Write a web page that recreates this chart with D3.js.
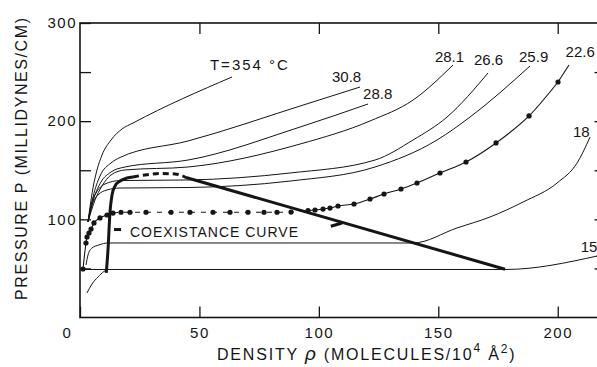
<!DOCTYPE html>
<html>
<head>
<meta charset="utf-8">
<script src="https://cdn.jsdelivr.net/npm/d3@7"></script>
<style>
  body { margin: 0; background: #fff; }
  svg { display: block; font-family: "Liberation Sans", "DejaVu Sans", sans-serif; }
</style>
</head>
<body>
<svg id="chart" width="597" height="367"></svg>
<script>
// isotherms, [density, pressure]
const t354 = [[3.35, 97.3], [4.19, 112.6], [5.44, 131.9], [7.12, 150.3], [9.21, 165.5], [12.98, 180.8], [17.58, 192.0], [22.19, 198.1], [63.64, 245.0]];
const t308 = [[3.35, 97.3], [5.44, 122.7], [8.37, 144.1], [12.98, 157.4], [16.75, 163.0], [45.22, 179.8], [92.11, 215.4], [117.23, 234.8]];
const t288 = [[3.35, 97.3], [5.86, 121.7], [8.79, 138.0], [12.98, 148.2], [18.84, 153.3], [45.22, 160.4], [92.11, 194.0], [120.58, 217.5]];
const t281 = [[3.35, 97.3], [6.28, 119.7], [9.21, 133.9], [12.98, 145.2], [18.84, 150.3], [45.22, 153.3], [92.11, 176.7], [121.42, 200.2], [139.42, 221.5], [156.17, 257.2]];
const t266 = [[3.35, 97.3], [4.61, 114.6], [6.7, 126.8], [10.47, 136.0], [16.75, 139.5], [45.22, 140.1], [87.92, 147.2], [123.51, 160.4], [139.42, 180.8], [153.65, 204.2], [170.82, 249.1]];
const t259 = [[3.35, 97.3], [5.02, 114.6], [7.54, 124.8], [11.3, 129.9], [16.75, 131.9], [45.22, 132.4], [87.92, 139.0], [123.51, 153.3], [149.47, 180.8], [163.28, 204.2], [188.4, 256.2]];
const t226 = [[1.26, 49.4], [2.51, 75.9], [2.93, 82.0], [3.77, 86.1], [4.61, 90.1], [5.86, 96.3], [8.37, 101.4], [11.3, 104.4], [13.82, 106.4],
  [17.17, 107.2], [20.93, 107.2], [27.63, 107.2], [38.1, 107.2], [46.05, 107.2], [55.68, 107.2], [62.8, 107.2], [70.34, 107.2], [77.04, 107.2], [82.48, 107.2], [88.34, 107.4],
  [95.46, 109.0], [98.39, 109.5], [101.74, 110.5], [104.67, 111.5], [108.02, 113.6], [114.72, 115.6], [121.42, 120.7], [127.28, 125.8], [134.39, 130.9],
  [141.09, 137.0], [150.72, 147.2], [161.61, 158.4], [174.17, 177.8], [187.98, 205.3], [200.12, 239.9]];
const t226Tail = [[200.12, 239.9], [204.7, 257.2]];
const t18 = [[2.51, 53.5], [3.35, 63.7], [5.02, 70.8], [7.95, 73.9], [11.72, 75.9], [139.42, 75.9], [157.84, 91.2], [171.66, 102.4], [185.47, 117.6], [199.71, 137.0], [208.08, 157.3], [213.53, 183.8]];
const t15 = [[2.93, 25.0], [5.02, 34.1], [7.54, 41.3], [10.05, 46.9], [11.72, 48.9], [177.94, 48.9], [216.46, 62.6]];
const tie15 = [[0.8, 48.9], [11.72, 48.9]];

// coexistence curve: left branch, dashed top, straight right branch
const coexLeft = [[11.0, 45.5], [11.72, 68.8], [12.56, 107.5], [13.4, 124.8], [14.65, 133.9], [16.75, 139.0], [19.68, 142.1], [22.19, 143.2]];
const coexTop = [[22.19, 143.2], [27.21, 145.2], [33.49, 146.7], [39.77, 146.2], [44.38, 142.6]];
const coexRight = [[44.38, 142.6], [177.94, 49.2]];
const pointers = [[[14.23, 89.6], [17.2, 89.6]], [[105.0, 93.0], [109.7, 96.3]]];

const isoNames = ["T=354 °C", "30.8", "28.8", "28.1", "26.6", "25.9", "22.6", "18", "15"];
const xTicks = [0, 50, 100, 150, 200];
const yTicks = [50, 100, 150, 200, 250, 300];
const yLabelled = [100, 200, 300];

// label layout (data coords of text start / baseline)
const labelAt = [[54.4, 252.0], [105.5, 239.9], [118.5, 222.6], [148.6, 260.2], [164.96, 257.2],
  [183.8, 260.2], [203.3, 265.3], [206.4, 183.9], [209.6, 66.7]];

const svg = d3.select("svg#chart");
const ink = "#151515";

const x = d3.scaleLinear().domain([0, 220]).range([80, 605.5]);
const y = d3.scaleLinear().domain([0, 300]).range([317.5, 23]);

const line = d3.line().x((d) => x(d[0])).y((d) => y(d[1])).curve(d3.curveMonotoneX);
const straight = d3.line().x((d) => x(d[0])).y((d) => y(d[1]));

// axes, ticks pointing inward
function styleAxis(a) {
  a.select(".domain").remove();
  a.selectAll(".tick line").attr("stroke", ink).attr("stroke-width", 1.3);
  a.selectAll(".tick text")
    .attr("fill", ink)
    .style("font-size", "15px")
    .attr("letter-spacing", 1.5);
}

svg.append("g")
  .attr("transform", "translate(0," + y(0) + ")")
  .call(d3.axisBottom(x).tickValues(xTicks).tickSizeInner(-11).tickSizeOuter(0).tickPadding(10))
  .call(styleAxis)
  .selectAll(".tick text")
  .filter((d) => d === 0)
  .attr("dx", -13);

svg.append("g")
  .attr("transform", "translate(0," + y(300) + ")")
  .call(d3.axisTop(x).tickValues(xTicks.slice(1)).tickSizeInner(-11).tickSizeOuter(0).tickFormat(""))
  .call(styleAxis);

svg.append("g")
  .attr("transform", "translate(" + x(0) + ",0)")
  .call(d3.axisLeft(y).tickValues(yTicks).tickSizeInner(-11).tickSizeOuter(0).tickPadding(3)
    .tickFormat((d) => (yLabelled.includes(d) ? d : "")))
  .call(styleAxis);

svg.append("g")
  .attr("transform", "translate(" + x(220) + ",0)")
  .call(d3.axisRight(y).tickValues(yTicks.slice(0, -1)).tickSizeInner(-11).tickSizeOuter(0).tickFormat(""))
  .call(styleAxis);

svg.append("rect")
  .attr("x", x(0))
  .attr("y", y(300))
  .attr("width", x(220) - x(0))
  .attr("height", y(0) - y(300))
  .attr("fill", "none")
  .attr("stroke", ink)
  .attr("stroke-width", 1.6);

// isotherms
const plot = svg.append("g").attr("fill", "none").attr("stroke", ink);
[t354, t308, t288, t281, t266, t259, t18, t15].forEach((s) => {
  plot.append("path").attr("d", line(s)).attr("stroke-width", 1);
});
plot.append("path").attr("d", straight(tie15)).attr("stroke-width", 1);

// 22.6 isotherm: solid bends, dash-dot plateau
plot.append("path").attr("d", line(t226.filter((d) => d[0] <= 14))).attr("stroke-width", 1.1);
plot.append("path").attr("d", line(t226.filter((d) => d[0] >= 13.8 && d[0] <= 96)))
  .attr("stroke-width", 1).attr("stroke-dasharray", "5,6");
plot.append("path").attr("d", line(t226.filter((d) => d[0] >= 95))).attr("stroke-width", 1.1);
plot.append("path").attr("d", straight(t226Tail)).attr("stroke-width", 1.1);

svg.append("g")
  .selectAll("circle")
  .data(t226)
  .enter()
  .append("circle")
  .attr("cx", (d) => x(d[0]))
  .attr("cy", (d) => y(d[1]))
  .attr("r", 2.6)
  .attr("fill", ink);

// coexistence curve
plot.append("path").attr("d", line(coexLeft)).attr("stroke-width", 3);
plot.append("path").attr("d", line(coexTop)).attr("stroke-width", 3).attr("stroke-dasharray", "6,4");
plot.append("path").attr("d", straight(coexRight)).attr("stroke-width", 3);
pointers.forEach((p) => {
  plot.append("path").attr("d", straight(p)).attr("stroke-width", 3);
});

// isotherm labels
svg.append("g")
  .selectAll("text")
  .data(isoNames)
  .enter()
  .append("text")
  .attr("x", (d, i) => x(labelAt[i][0]))
  .attr("y", (d, i) => y(labelAt[i][1]))
  .attr("textLength", (d, i) => (i === 0 ? 78 : null))
  .attr("lengthAdjust", "spacing")
  .attr("fill", ink)
  .style("font-size", "15px")
  .text((d) => d);

svg.append("text")
  .attr("x", 130)
  .attr("y", 237)
  .attr("textLength", 168)
  .attr("lengthAdjust", "spacing")
  .attr("fill", ink)
  .style("font-size", "14px")
  .text("COEXISTANCE CURVE");

// axis titles
svg.append("text")
  .attr("transform", "translate(27,159) rotate(-90)")
  .attr("text-anchor", "middle")
  .attr("textLength", 282)
  .attr("lengthAdjust", "spacing")
  .attr("fill", ink)
  .style("font-size", "16px")
  .text("PRESSURE  P  (MILLIDYNES/CM)");

const xt = svg.append("text")
  .attr("x", 217)
  .attr("y", 360)
  .attr("fill", ink)
  .style("font-size", "16px")
  .attr("letter-spacing", 1.8);
xt.append("tspan").text("DENSITY ");
xt.append("tspan").style("font-style", "italic").style("font-size", "19px").text("ρ");
xt.append("tspan").text(" (MOLECULES/10");
xt.append("tspan").attr("dy", -8).style("font-size", "12px").text("4");
xt.append("tspan").attr("dy", 8).text(" Å");
xt.append("tspan").attr("dy", -7).style("font-size", "12px").text("2");
xt.append("tspan").attr("dy", 7).text(")");
</script>
</body>
</html>
